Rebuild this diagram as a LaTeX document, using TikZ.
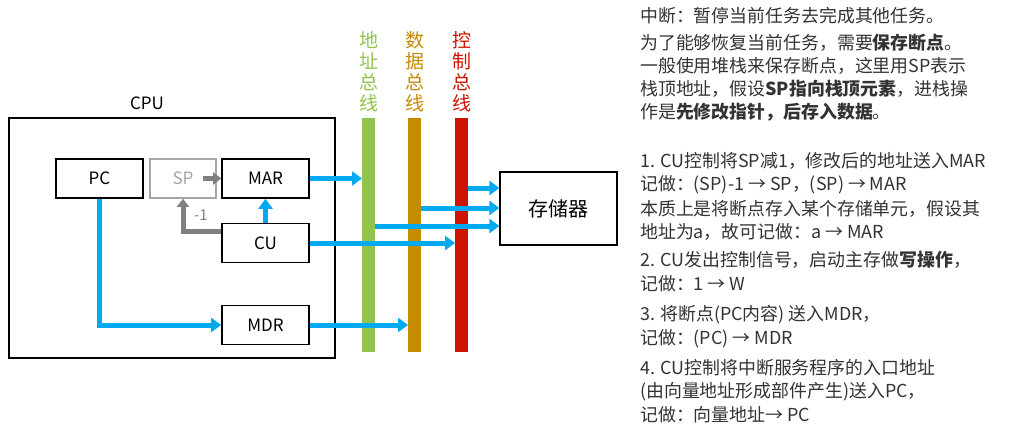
\documentclass[tikz,border=0pt]{standalone}
\usepackage{fontspec}
\setmainfont{Noto Sans CJK SC}
\usetikzlibrary{arrows.meta}
\definecolor{blu}{RGB}{0,170,240}
\definecolor{gbus}{RGB}{146,196,76}
\definecolor{obus}{RGB}{196,140,0}
\definecolor{rbus}{RGB}{204,20,0}
\tikzset{x=1pt,y=-1pt,
 reg/.style={draw,line width=1.6pt,minimum width=87pt,minimum height=39pt,font=\fontsize{17}{17}\selectfont,inner sep=0pt},
 barrow/.style={blu,line width=5pt,-{Triangle[length=10pt,width=14pt]}},
 garrow/.style={gray,line width=5pt,-{Triangle[length=8pt,width=12pt]}},
 bus/.style={line width=13pt},
 txt/.style={anchor=west,font=\fontsize{17.9}{17}\selectfont,text=black!80,inner sep=0pt}}
\begin{document}
\begin{tikzpicture}
\useasboundingbox[fill=white] (0,0) rectangle (1016,436);
\node[draw,line width=1.2pt,minimum width=326pt,minimum height=240pt,inner sep=0pt] (cpu) at (172,238) {};
\node[font=\fontsize{17}{17}\selectfont] (cpul) at (147,103) {CPU};
\node[reg] (pc) at (99.5,178.5) {PC};
\node[reg,draw=gray!70,text=gray!70,minimum width=66pt] (sp) at (183,178.5) {SP};
\node[reg] (mar) at (265.5,178.5) {MAR};
\node[reg] (cu) at (265.5,243) {CU};
\node[reg] (mdr) at (265.5,325) {MDR};
\node[draw,line width=1.2pt,minimum width=117pt,minimum height=73pt,font=\fontsize{20}{20}\selectfont] (mem) at (558.5,208.5) {存储器};
\coordinate (g1) at (368.5,118); \coordinate (g2) at (368.5,352);
\coordinate (o1) at (414.5,118); \coordinate (o2) at (414.5,352);
\coordinate (r1) at (461.5,118); \coordinate (r2) at (461.5,352);
\draw[bus,gbus] (g1) -- (g2);
\draw[bus,obus] (o1) -- (o2);
\draw[bus,rbus] (r1) -- (r2);
\node[gbus,align=center,font=\fontsize{19}{21}\selectfont,anchor=south] (gl) at (368.5,115) {地\\址\\总\\线};
\node[obus,align=center,font=\fontsize{19}{21}\selectfont,anchor=south] (ol) at (414.5,115) {数\\据\\总\\线};
\node[rbus,align=center,font=\fontsize{19}{21}\selectfont,anchor=south] (rl) at (461.5,115) {控\\制\\总\\线};
% arrows
\draw[barrow] (mar.east) -- (362,178.5);
\draw[barrow] (cu.east) -- (455,243);
\draw[barrow] (375,226) -- (mem.west |- 0,226);
\draw[barrow] (421,208) -- (mem.west |- 0,208);
\draw[barrow] (468,188) -- (mem.west |- 0,188);
\draw[barrow] (mdr.east) -- (408,325);
\draw[barrow] (pc.south) |- (mdr.west);
\draw[barrow] (cu.north) -- (mar.south);
\coordinate (spo) at (203,178.5);
\draw[garrow] (spo) -- (mar.west);
\draw[garrow] (cu.west |- 0,231) -| (sp.south);
\node[gray,font=\fontsize{15}{15}\selectfont] (m1) at (201,215) {-1};
% text
\node[txt] (t1) at (640,16) {中断：暂停当前任务去完成其他任务。};
\node[txt] (t2) at (640,43) {为了能够恢复当前任务，需要\textbf{保存断点}。};
\node[txt] (t3) at (640,66) {一般使用堆栈来保存断点，这里用SP表示};
\node[txt] (t4) at (640,89) {栈顶地址，假设\textbf{SP指向栈顶元素}，进栈操};
\node[txt] (t5) at (640,112) {作是\textbf{先修改指针，后存入数据}。};
\node[txt] (t6) at (640,161) {1. CU控制将SP减1，修改后的地址送入MAR};
\node[txt] (t7) at (640,185) {记做：(SP)-1 → SP，(SP) → MAR};
\node[txt] (t8) at (640,209) {本质上是将断点存入某个存储单元，假设其};
\node[txt] (t9) at (640,232) {地址为a，故可记做：a → MAR};
\node[txt] (t10) at (640,260) {2. CU发出控制信号，启动主存做\textbf{写操作}，};
\node[txt] (t11) at (640,284) {记做：1 → W};
\node[txt] (t12) at (640,315) {3. 将断点(PC内容) 送入MDR，};
\node[txt] (t13) at (640,339) {记做：(PC) → MDR};
\node[txt] (t14) at (640,368) {4. CU控制将中断服务程序的入口地址};
\node[txt] (t15) at (640,392) {(由向量地址形成部件产生)送入PC，};
\node[txt] (t16) at (640,415) {记做：向量地址→ PC};
\end{tikzpicture}
\end{document}
